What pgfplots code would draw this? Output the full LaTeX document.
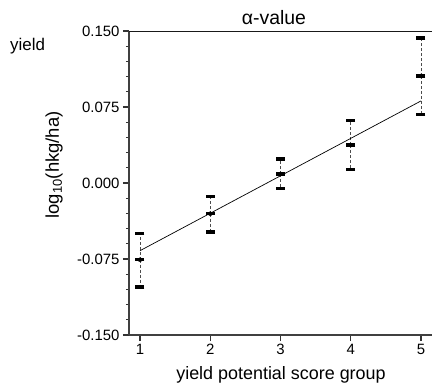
\documentclass[border=0pt]{standalone}
\usepackage{pgfplots}
\pgfplotsset{compat=1.18}
\usepackage{pgfplotstable}
\usepackage{fontspec}
\setmainfont{Liberation Sans}

\pgfplotstableread{
g mean hi lo
1 -0.0757 -0.0500 -0.1026
2 -0.0303 -0.0135 -0.0484
3 0.0089 0.0237 -0.0056
4 0.0375 0.0615 0.0131
5 0.1056 0.1430 0.0674
}\data

\begin{document}
\begin{tikzpicture}
\begin{axis}[
  scale only axis, width=303bp, height=304bp,
  xmin=0.8434, xmax=5.1566, ymin=-0.15, ymax=0.15,
  axis x line*=bottom, axis y line*=left,
  axis line style={draw=black!75, line width=1.3bp, -},
  xtick={1,2,3,4,5},
  xticklabels={1,2,3,4,5},
  ytick={-0.15,-0.075,0,0.075,0.15},
  yticklabels={-0.150,-0.075,0.000,0.075,0.150},
  minor y tick num=4,
  tick align=outside,
  major tick length=6bp, minor tick length=3bp,
  tick style={black!80, line width=1.3bp},
  ticklabel style={font=\fontsize{15}{17}\selectfont},
  clip=false,
]
\addplot[only marks, mark=none, error bars/.cd, y dir=both, y explicit, error mark=none,
  error bar style={gray!60!black, densely dashed, line width=0.9bp}]
  table[x=g, y=mean, y error plus expr=\thisrow{hi}-\thisrow{mean}, y error minus expr=\thisrow{mean}-\thisrow{lo}] {\data};
\addplot[black, line width=0.7bp, no marks] coordinates {(1,-0.0668) (5,0.081)};
\addplot[only marks, mark=-, mark size=4.5bp, mark options={line width=3.5bp, black}] table[x=g,y=hi]{\data};
\addplot[only marks, mark=-, mark size=4.5bp, mark options={line width=3.5bp, black}] table[x=g,y=mean]{\data};
\addplot[only marks, mark=-, mark size=4.5bp, mark options={line width=3.5bp, black}] table[x=g,y=lo]{\data};
\draw[black!90, line width=1bp] (rel axis cs:0,1) -- (rel axis cs:1,1);
\node[anchor=base, font=\fontsize{19.5}{22}\selectfont] at (axis cs:2.907,0.156) {α-value};
\node[anchor=base west, inner sep=0pt, font=\fontsize{17}{20}\selectfont] at (axis cs:-0.8505,0.131) {yield};
\node[rotate=90, anchor=center, font=\fontsize{18.5}{21}\selectfont] at (axis cs:-0.224,0.0178) {log\textsubscript{10}(hkg/ha)};
\node[anchor=base, font=\fontsize{18}{21}\selectfont] at (axis cs:3.007,-0.1944) {yield potential score group};
\coordinate (bl) at (axis cs:-0.9929,-0.2013);
\coordinate (tr) at (axis cs:5.1566,0.1806);
\end{axis}
\pgfresetboundingbox
\path[use as bounding box] (bl) rectangle (tr);
\end{tikzpicture}
\end{document}
